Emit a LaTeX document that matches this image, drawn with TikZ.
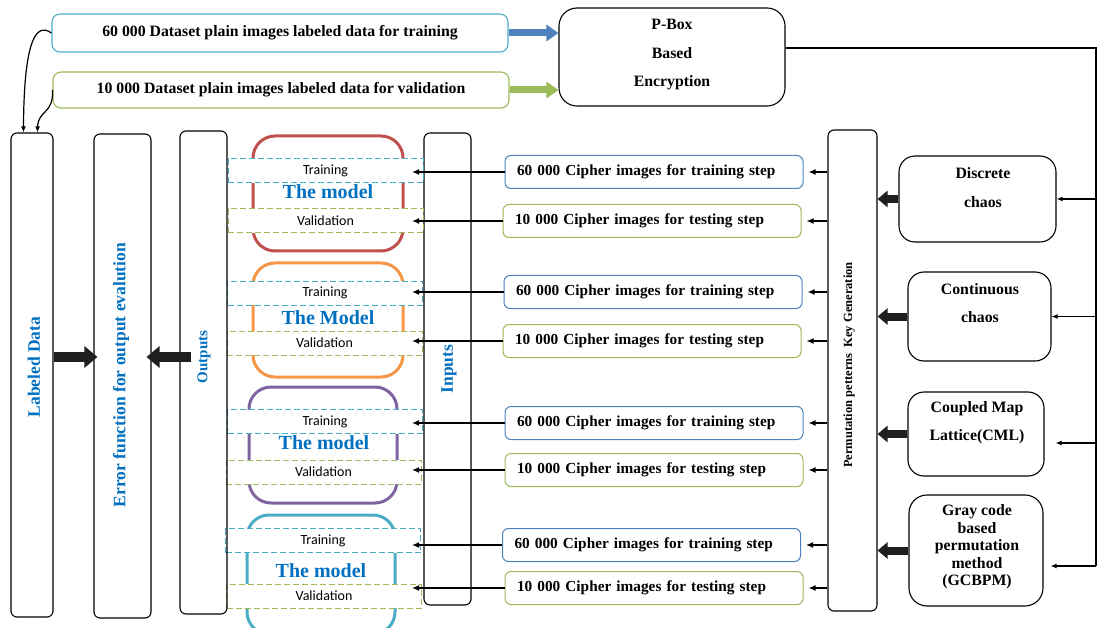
\documentclass[tikz,border=0pt]{standalone}
\usepackage{fontspec}
\setmainfont{Liberation Serif}
\newfontfamily\calibri{Carlito}
\usetikzlibrary{arrows.meta,calc}

\definecolor{mred}{HTML}{C0504D}
\definecolor{morange}{HTML}{F79646}
\definecolor{mpurple}{HTML}{8064A2}
\definecolor{mcyan}{HTML}{4BACC6}
\definecolor{tgreen}{HTML}{9BBB59}
\definecolor{tblue}{HTML}{4F81BD}
\definecolor{lblue}{HTML}{0070C0}

\tikzset{
  colbox/.style={draw, rounded corners=6pt, line width=1.1pt, inner sep=0pt, fill=white},
  roundbox/.style={draw, line width=1.1pt, inner sep=0pt},
  model/.style={draw, line width=3pt, rounded corners=22pt, inner sep=0pt},
  modeltext/.style={font=\bfseries\fontsize{20}{22}\selectfont, text=lblue, inner sep=0pt},
  phase/.style={dash pattern=on 6pt off 3pt, fill=white, line width=1pt,
    font=\calibri\fontsize{14}{16}\selectfont, minimum width=195pt,
    minimum height=24pt, inner sep=0pt},
  trainbox/.style={phase, draw=mcyan},
  valbox/.style={phase, draw=tgreen},
  cipher/.style={rounded corners=6pt, line width=1pt, minimum height=33pt,
    text width=274pt, inner xsep=12pt, inner ysep=0pt, align=left,
    font=\bfseries\fontsize{15.3}{17}\selectfont},
  plainbox/.style={rounded corners=8pt, line width=1.1pt, minimum width=456pt,
    inner sep=0pt, font=\bfseries\fontsize{15.8}{17}\selectfont},
  bold15/.style={font=\bfseries\fontsize{15.8}{17}\selectfont, inner sep=0pt, align=center},
  vlabel/.style={rotate=90, text=lblue, inner sep=0pt},
  arr/.style={-{Latex[length=7pt,width=6pt]}, line width=1.5pt},
  thinarr/.style={-{Latex[length=6pt,width=5pt]}, line width=1.2pt},
  bigarrow/.style={line width=10pt, draw=black!88, -{Triangle[length=13pt,width=21pt]}},
  smallblock/.style={line width=8pt, draw=black!88, -{Triangle[length=10pt,width=16pt]}},
  colorblock/.style={line width=7pt, -{Triangle[length=12pt,width=16pt]}},
}

\begin{document}
\begin{tikzpicture}[x=1pt,y=-1pt]
\useasboundingbox (0,0) rectangle (1097,628);
\clip (0,0) rectangle (1097,628);

% plain-image datasets and the P-box encryption
\node[plainbox, draw=mcyan, minimum height=38pt] (plain1) at (280,33)
  {60 000 Dataset plain images labeled data for training};
\node[plainbox, draw=tgreen, minimum height=36pt] (plain2) at (281,90)
  {10 000 Dataset plain images labeled data for validation};
\node[roundbox, rounded corners=18pt, minimum width=226pt, minimum height=98pt] (pbox) at (672,57) {};
\node[bold15, font=\bfseries\fontsize{15.8}{28.5}\selectfont] (pboxtext) at (672,55) {P-Box\\Based\\Encryption};

\draw[colorblock, draw=tblue] (plain1.east) -- (plain1.east -| pbox.west);
\draw[colorblock, draw=tgreen] (plain2.east) -- (plain2.east -| pbox.west);

% vertical columns
\node[colbox, minimum width=42pt, minimum height=484pt] (lab) at (32,375) {};
\node[colbox, minimum width=57pt, minimum height=484pt] (err) at (122.5,376) {};
\node[colbox, minimum width=47pt, minimum height=472pt] (inp) at (447.5,369) {};
\node[colbox, minimum width=49pt, minimum height=481pt] (perm) at (852.5,370.5) {};

% the four models
\node[model, draw=mred, minimum width=150pt, minimum height=115pt] (m1) at (328,193.5) {};
\node[model, draw=morange, minimum width=150pt, minimum height=114pt] (m2) at (328,320) {};
\node[model, draw=mpurple, minimum width=148pt, minimum height=116pt] (m3) at (323,445) {};
\node[model, draw=mcyan, minimum width=148pt, minimum height=119pt] (m4) at (321,574.5) {};

\node[trainbox] (t1) at (325.5,171) {Training};
\node[valbox]   (v1) at (325.5,221) {Validation};
\node[trainbox] (t2) at (325,293) {Training};
\node[valbox]   (v2) at (324.5,343) {Validation};
\node[trainbox] (t3) at (325,421.5) {Training};
\node[valbox]   (v3) at (323.5,472) {Validation};
\node[trainbox] (t4) at (323,540.5) {Training};
\node[valbox]   (v4) at (324,596) {Validation};

\node[modeltext] (m1text) at (328,192) {The model};
\node[modeltext] (m2text) at (328,318) {The Model};
\node[modeltext] (m3text) at (324,443) {The model};
\node[modeltext] (m4text) at (321,571) {The model};

% outputs column, outlined over the phase boxes
\node[colbox, fill=none, minimum width=47pt, minimum height=483pt] (out) at (203.5,372.5) {};

\node[vlabel, font=\bfseries\fontsize{17.5}{19}\selectfont] (labtext) at (34,367) {Labeled Data};
\node[vlabel, font=\bfseries\fontsize{17.5}{19}\selectfont] (errtext) at (121,375) {Error function for output evalution};
\node[vlabel, font=\bfseries\fontsize{15}{17}\selectfont] (outtext) at (204,357) {Outputs};
\node[vlabel, font=\bfseries\fontsize{17.5}{19}\selectfont] (inptext) at (449,369) {Inputs};
\node[vlabel, text=black, font=\bfseries\fontsize{12.5}{14}\selectfont] (permtext) at (849,365) {Permutation petterns \ Key Generation};

% dataset curves into the labeled data column
\draw[thinarr] (plain1.west) .. controls (36,22) and (24,40) .. ([xshift=13pt]lab.north west);
\draw[thinarr] (plain2.west) .. controls (54,114) and (38,110) .. ([xshift=27pt]lab.north west);

% error function block arrows
\coordinate (midrow) at (0,357);
\draw[bigarrow, shorten >=-4pt] (lab.east |- midrow) -- (err.west |- midrow);
\draw[bigarrow, shorten <=-12pt, shorten >=-5pt] (out.west |- midrow) -- (err.east |- midrow);

% cipher image sets
\node[cipher, draw=tblue]  (c1) at (654,172) {60 000 Cipher images for training step};
\node[cipher, draw=tgreen] (c2) at (652,221) {10 000 Cipher images for testing step};
\node[cipher, draw=tblue]  (c3) at (653,292) {60 000 Cipher images for training step};
\node[cipher, draw=tgreen] (c4) at (652,341) {10 000 Cipher images for testing step};
\node[cipher, draw=tblue]  (c5) at (654,423) {60 000 Cipher images for training step};
\node[cipher, draw=tgreen] (c6) at (654,470) {10 000 Cipher images for testing step};
\node[cipher, draw=tblue]  (c7) at (651.5,545) {60 000 Cipher images for training step};
\node[cipher, draw=tgreen] (c8) at (654,588) {10 000 Cipher images for testing step};

\coordinate (tipX) at (412,0);
\foreach \c in {c1,c2,c3,c4,c5,c6,c7,c8}{
  \draw[arr] (\c.west) -- (\c.west -| tipX);
  \draw[arr] (perm.west |- \c.east) -- ([xshift=5pt]\c.east);
}

% chaotic key sources
\node[roundbox, rounded corners=16pt, minimum width=157pt, minimum height=86pt] (disc) at (977.5,199) {};
\node[bold15, font=\bfseries\fontsize{15.8}{29}\selectfont] (disctext) at (983,187.5) {Discrete\\chaos};
\node[roundbox, rounded corners=16pt, minimum width=143pt, minimum height=89pt] (cont) at (979.5,316.5) {};
\node[bold15, font=\bfseries\fontsize{15.8}{28}\selectfont] (conttext) at (980,303) {Continuous\\chaos};
\node[roundbox, rounded corners=16pt, minimum width=136pt, minimum height=84pt] (cml) at (976,434) {};
\node[bold15, font=\bfseries\fontsize{15.8}{28}\selectfont] (cmltext) at (977,423) {Coupled Map\\Lattice(CML)};
\node[roundbox, rounded corners=18pt, minimum width=134pt, minimum height=111pt] (gray) at (976,550.5) {};
\node[bold15, font=\bfseries\fontsize{15.8}{17.5}\selectfont] (graytext) at (977,547)
  {Gray code\\based\\permutation\\method\\(GCBPM)};

\draw[smallblock] (disc.west) -- (perm.east |- disc.west);
\draw[smallblock] (cont.west) -- (perm.east |- cont.west);
\draw[smallblock] (cml.west) -- (perm.east |- cml.west);
\draw[smallblock] (gray.west) -- (perm.east |- gray.west);

% key distribution bus from the P-box
\coordinate (busTop) at (1096,48);
\coordinate (busBot) at (1096,566);
\draw[line width=1.5pt] (pbox.east |- busTop) -- (busTop) -- (busBot);
\path ($(cml.east)+(0,9)$) coordinate (cmlIn);
\draw[thinarr] (disc.east -| busTop) -- (disc.east);
\draw[thinarr] (cont.east -| busTop) -- (cont.east);
\draw[thinarr, shorten >=11pt] (cmlIn -| busTop) -- (cmlIn);
\draw[thinarr, shorten >=7pt] (busBot) -- (busBot -| gray.east);
\end{tikzpicture}
\end{document}
